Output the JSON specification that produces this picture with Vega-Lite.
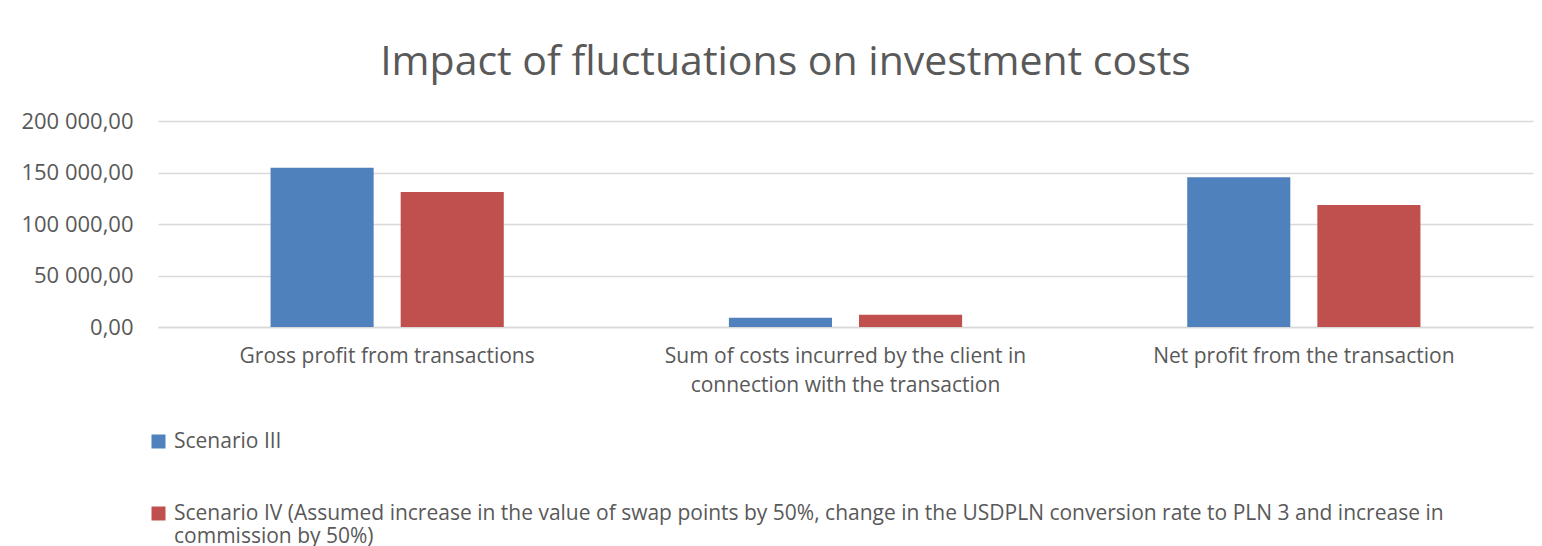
{
  "$schema": "https://vega.github.io/schema/vega-lite/v6.json",
  "width": 1375,
  "height": 206,
  "autosize": {"type": "none"},
  "padding": {"left": 158, "top": 121, "right": 9, "bottom": 219},
  "background": "white",
  "title": {
    "text": "Impact of fluctuations on investment costs",
    "anchor": "middle",
    "dx": -60,
    "offset": 26,
    "font": "Open Sans",
    "fontSize": 41,
    "fontWeight": "normal",
    "color": "#595959"
  },
  "config": {
    "locale": {"number": {"decimal": ",", "thousands": " ", "grouping": [3], "currency": ["", ""]}},
    "view": {"stroke": null},
    "font": "Open Sans"
  },
  "data": {
    "values": [
      {"metric": "Gross profit from transactions", "scenario": "Scenario III", "value": 154500},
      {"metric": "Gross profit from transactions", "scenario": "Scenario IV (Assumed increase in the value of swap points by 50%, change in the USDPLN conversion rate to PLN 3 and increase in commission by 50%)", "value": 131000},
      {"metric": "Sum of costs incurred by the client in connection with the transaction", "scenario": "Scenario III", "value": 9100},
      {"metric": "Sum of costs incurred by the client in connection with the transaction", "scenario": "Scenario IV (Assumed increase in the value of swap points by 50%, change in the USDPLN conversion rate to PLN 3 and increase in commission by 50%)", "value": 12000},
      {"metric": "Net profit from the transaction", "scenario": "Scenario III", "value": 145300},
      {"metric": "Net profit from the transaction", "scenario": "Scenario IV (Assumed increase in the value of swap points by 50%, change in the USDPLN conversion rate to PLN 3 and increase in commission by 50%)", "value": 118400}
    ]
  },
  "mark": {"type": "bar"},
  "encoding": {
    "x": {
      "field": "metric",
      "type": "nominal",
      "sort": ["Gross profit from transactions", "Sum of costs incurred by the client in connection with the transaction", "Net profit from the transaction"],
      "scale": {"paddingInner": 0, "paddingOuter": 0},
      "axis": {
        "title": null,
        "labelAngle": 0,
        "ticks": false,
        "domainColor": "#d9d9d9",
        "domainWidth": 1.5,
        "labelColor": "#595959",
        "labelFont": "Open Sans",
        "labelFontSize": 21,
        "labelPadding": 18,
        "labelLimit": 600,
        "labelLineHeight": 29,
        "labelBaseline": "top",
        "labelExpr": "datum.label == 'Sum of costs incurred by the client in connection with the transaction' ? ['Sum of costs incurred by the client in', 'connection with the transaction'] : datum.label"
      }
    },
    "xOffset": {
      "field": "scenario",
      "type": "nominal",
      "scale": {"paddingInner": 0.2077, "paddingOuter": 0.865}
    },
    "y": {
      "field": "value",
      "type": "quantitative",
      "scale": {"domain": [0, 200000]},
      "axis": {
        "title": null,
        "values": [0, 50000, 100000, 150000, 200000],
        "format": ",.2f",
        "domain": false,
        "ticks": false,
        "gridColor": "#d9d9d9",
        "gridWidth": 1.5,
        "labelColor": "#595959",
        "labelFont": "Open Sans",
        "labelFontSize": 22,
        "labelPadding": 25
      }
    },
    "color": {
      "field": "scenario",
      "type": "nominal",
      "scale": {
        "domain": ["Scenario III", "Scenario IV (Assumed increase in the value of swap points by 50%, change in the USDPLN conversion rate to PLN 3 and increase in commission by 50%)"],
        "range": ["#4f81bd", "#c0504d"]
      },
      "legend": {
        "title": null,
        "orient": "none",
        "legendX": -10,
        "legendY": 310,
        "direction": "vertical",
        "symbolType": "square",
        "symbolSize": 196,
        "symbolStrokeWidth": 0,
        "labelOffset": 5,
        "labelFont": "Open Sans",
        "labelFontSize": 21,
        "labelColor": "#595959",
        "labelLimit": 1500,
        "labelLineHeight": 27,
        "rowPadding": 50,
        "labelExpr": "datum.label == 'Scenario III' ? datum.label : ['Scenario IV (Assumed increase in the value of swap points by 50%, change in the USDPLN conversion rate to PLN 3 and increase in', 'commission by 50%)']"
      }
    }
  }
}
